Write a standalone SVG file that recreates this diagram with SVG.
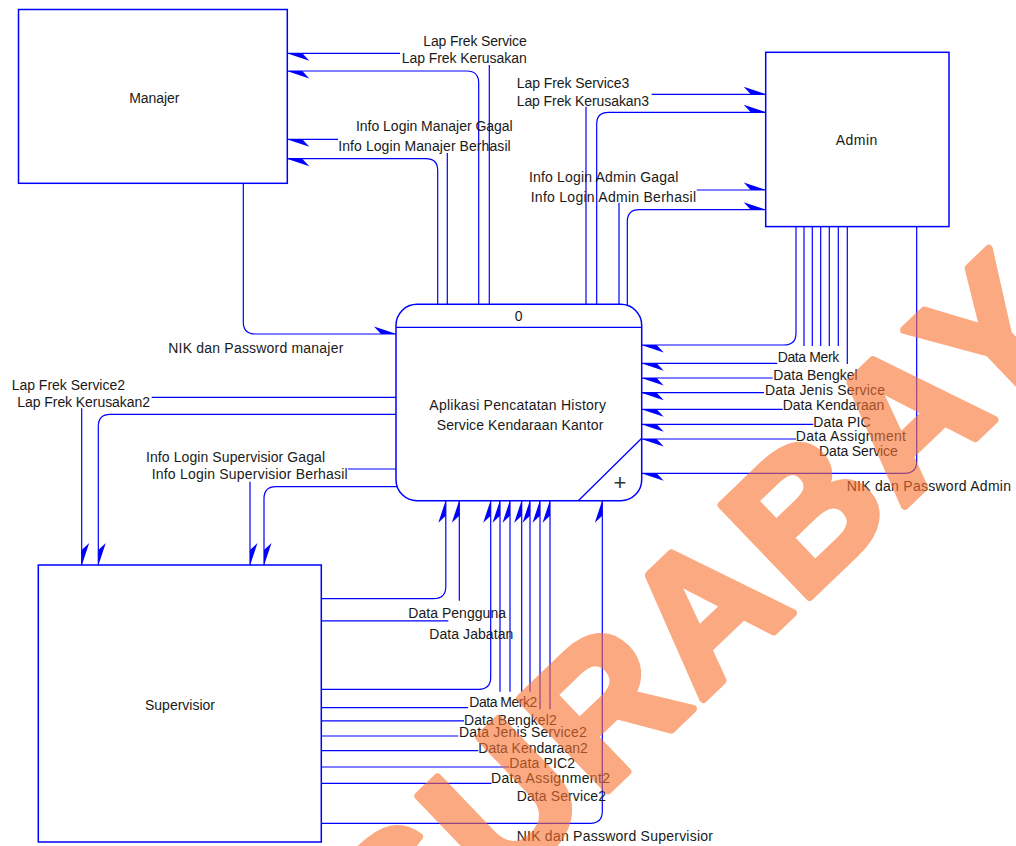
<svg xmlns="http://www.w3.org/2000/svg" width="1016" height="846" viewBox="0 0 1016 846">
<style>
.box{fill:#fff;stroke:#0000ff;stroke-width:1.5}
.conn path{fill:none;stroke:#0000ff;stroke-width:1.2;marker-end:url(#ah)}
.sep{fill:none;stroke:#0000ff;stroke-width:1.3}
text{font-family:"Liberation Sans",Arial,sans-serif;font-size:14px;fill:#1a1a1a}
.wm{font-family:"Liberation Sans",Arial,sans-serif;font-weight:bold;font-size:185px;letter-spacing:6px;fill:#f8712f;stroke:#f8712f;stroke-width:8;stroke-linejoin:round}
</style>
<defs>
<marker id="ah" markerUnits="userSpaceOnUse" orient="auto" markerWidth="40" markerHeight="40" viewBox="-30 -20 40 40" refX="0" refY="0" overflow="visible">
<path d="M0.5,0 L-15,0 L-22,-7.5 Z" fill="#0000ff"/>
</marker>
<path id="wmpath" d="M405,985 L1350,79"/>
</defs>

<g id="node-manajer">
<rect class="box" x="18.5" y="9.5" width="268.8" height="173.8"/>
<text x="129.3" y="102.7" textLength="50">Manajer</text>
</g>
<g id="node-admin">
<rect class="box" x="765.7" y="52.3" width="183.3" height="174.3"/>
<text x="835.7" y="145" textLength="41.7">Admin</text>
</g>
<g id="node-supervisior">
<rect class="box" x="38.3" y="565" width="283" height="277"/>
<text x="145" y="710">Supervisior</text>
</g>
<g id="node-process">
<rect class="box" x="396" y="304.3" width="245.7" height="196.4" rx="21" ry="21"/>
<path class="sep" d="M396,327.3 H641.7 M578.3,500.7 L641.7,438.3"/>
<text x="518.7" y="321" text-anchor="middle">0</text>
<text x="429.3" y="410" textLength="176.7">Aplikasi Pencatatan History</text>
<text x="436.7" y="430" textLength="166.6">Service Kendaraan Kantor</text>
<text x="620" y="490" text-anchor="middle" style="font-size:22px;fill:#333">+</text>
</g>

<g id="connectors" class="conn">
<path d="M489.3,304 V65 M400,53.3 H287.3"/>
<path d="M478.7,304 V83 Q478.7,71 466.7,71 H287.3"/>
<path d="M447.3,304 V153 M338,139.3 H287.3"/>
<path d="M437.7,304 V170.5 Q437.7,158.7 425.7,158.7 H287.3"/>
<path d="M243.3,183.3 V322 Q243.3,334 255.3,334 H396"/>
<path d="M586,304 V106.7 M651.7,94.3 H765.7"/>
<path d="M596.7,304 V124 Q596.7,112.3 608.5,112.3 H765.7"/>
<path d="M619,304 V202.7 M696.7,190 H765.7"/>
<path d="M627.3,305 V221.7 Q627.3,209.7 639.3,209.7 H765.7"/>
<path d="M796,226.7 V333 Q796,345 784,345 H641.7"/>
<path d="M804,226.7 V346 M777.3,363.3 H641.7"/>
<path d="M812.3,226.7 V346 M772.7,378 H641.7"/>
<path d="M820.7,226.7 V346 M764,392.7 H641.7"/>
<path d="M829.3,226.7 V346 M782.7,409.3 H641.7"/>
<path d="M838.3,226.7 V346 M813.3,424.3 H641.7"/>
<path d="M847.3,226.7 V364 M796,439 H641.7"/>
<path d="M916.7,226.7 V461.3 Q916.7,473.3 904.7,473.3 H641.7"/>
<path d="M396,397.3 H151.7 M81.7,408.3 V565"/>
<path d="M396,414.3 H110.3 Q98.3,414.3 98.3,426.3 V565"/>
<path d="M396,469 H348 M250,481.7 V565"/>
<path d="M397,486.7 H276 Q264,486.7 264,498.7 V565"/>
<path d="M321.3,598.7 H433.5 Q445.8,598.7 445.8,586.5 V500.7"/>
<path d="M321.3,620.8 H448.3 M459.3,600.8 V500.7"/>
<path d="M321.3,689.3 H478.7 Q490.7,689.3 490.7,677.3 V500.7"/>
<path d="M321.3,707.7 H468 M500,691.7 V500.7"/>
<path d="M321.3,720.8 H464 M510,691.7 V500.7"/>
<path d="M321.3,736 H458.3 M521.7,691.7 V500.7"/>
<path d="M321.3,750.7 H478.3 M530,691.7 V500.7"/>
<path d="M321.3,767 H509.3 M540,709.3 V500.7"/>
<path d="M321.3,783.3 H491.5 M550,709.3 V500.7"/>
<path d="M321.3,823.3 H590.3 Q602.3,823.3 602.3,811.3 V500.7"/>
</g>

<g id="connector-labels">
<text x="423.3" y="45.7" textLength="103.4">Lap Frek Service</text>
<text x="401.7" y="63.3" textLength="125">Lap Frek Kerusakan</text>
<text x="356" y="131.3" textLength="156.7">Info Login Manajer Gagal</text>
<text x="338.3" y="151" textLength="172.4">Info Login Manajer Berhasil</text>
<text x="168.3" y="352.5" textLength="175">NIK dan Password manajer</text>
<text x="516.7" y="87.7" textLength="112.6">Lap Frek Service3</text>
<text x="516.7" y="105.5" textLength="132.3">Lap Frek Kerusakan3</text>
<text x="529" y="182" textLength="149.3">Info Login Admin Gagal</text>
<text x="530.7" y="201.5" textLength="165.3">Info Login Admin Berhasil</text>
<text x="777.7" y="361.8" textLength="61.6">Data Merk</text>
<text x="773.3" y="380" textLength="84.4">Data Bengkel</text>
<text x="765" y="395" textLength="120">Data Jenis Service</text>
<text x="782.7" y="410" textLength="101.6">Data Kendaraan</text>
<text x="813.3" y="426.7" textLength="57.4">Data PIC</text>
<text x="795.7" y="441" textLength="110.3">Data Assignment</text>
<text x="819" y="456" textLength="78.7">Data Service</text>
<text x="846.7" y="490.7" textLength="164.3">NIK dan Password Admin</text>
<text x="11.7" y="389.5" textLength="113.3">Lap Frek Service2</text>
<text x="17.3" y="406.7" textLength="132.7">Lap Frek Kerusakan2</text>
<text x="146" y="461.7" textLength="179">Info Login Supervisior Gagal</text>
<text x="151.7" y="479.3" textLength="196">Info Login Supervisior Berhasil</text>
<text x="408.3" y="617.7" textLength="97.7">Data Pengguna</text>
<text x="429.3" y="638.7" textLength="84">Data Jabatan</text>
<text x="469.3" y="706.7" textLength="68">Data Merk2</text>
<text x="464" y="725" textLength="92.7">Data Bengkel2</text>
<text x="459" y="737.3" textLength="127.7">Data Jenis Service2</text>
<text x="478.3" y="752.7" textLength="109.4">Data Kendaraan2</text>
<text x="509.3" y="767.7" textLength="65.7">Data PIC2</text>
<text x="491" y="783.3" textLength="119">Data Assignment2</text>
<text x="516.7" y="801" textLength="89.3">Data Service2</text>
<text x="516.7" y="841" textLength="196.3">NIK dan Password Supervisior</text>
</g>

<g id="watermark" opacity="0.6">
<text class="wm"><textPath href="#wmpath">SURABAYA</textPath></text>
</g>
</svg>
